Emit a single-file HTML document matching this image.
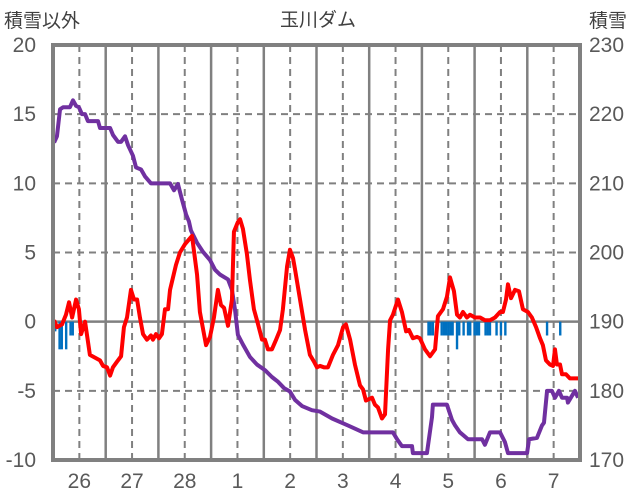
<!DOCTYPE html>
<html><head><meta charset="utf-8"><style>
html,body{margin:0;padding:0;background:#fff;}
svg{display:block;font-family:"Liberation Sans","Noto Sans CJK JP",sans-serif;}
</style></head><body>
<svg id="chart" width="636" height="501" viewBox="0 0 636 501">
<rect width="636" height="501" fill="#fff"/>
<g id="grid"></g>
<g id="bars"></g>
<g id="lines"></g>
<rect x="53" y="45" width="527" height="415" fill="none" stroke="#808080" stroke-width="4"/>
<g id="labels" fill="#595959" font-size="21"></g>
<text x="318" y="26" text-anchor="middle" font-size="19" fill="#404040">玉川ダム</text>
<text x="4" y="27" font-size="19" fill="#404040">積雪以外</text>
<text x="589" y="27" font-size="19" fill="#404040">積雪</text>
</svg>
<script>
const dayLabels=["26","27","28","1","2","3","4","5","6","7"];
const leftTicks=[20,15,10,5,0,-5,-10];
const rightTicks=[230,220,210,200,190,180,170];
const tempHours=[0.5,1.8,4.1,5.9,7.3,8.7,10.5,11.8,12.8,14.6,16.8,19.1,21.4,22.8,24.6,26,27.3,29.1,31,32.3,33.7,35.5,36.9,38.3,39.6,41,42.8,44.6,45.5,46.9,48.3,49.6,51,52.4,53.3,56,57.8,60.1,63.3,65.6,66.9,69.7,71.5,73.3,75.1,76.5,77.9,79.7,81.5,82.4,84.2,85.2,86.5,88.3,89.7,91.5,93.4,95.2,96.5,97.9,99.7,101.6,103.4,104.7,106.6,107.9,109.3,110.2,112.5,114.8,117,118.9,120.2,121.6,123.4,125.2,127.5,129.8,132.1,133.4,135.3,137.5,139.8,141.2,142.5,145.3,146.6,148,149.8,151.2,152.6,153.5,154.8,157.1,158.9,160.8,162.1,163.9,165.8,167.1,169.4,171.7,174,175.3,177.6,179.4,180.8,182.6,184,185.3,186.7,188.5,189.9,192.2,194.5,196.7,199,201.3,203.6,204.9,206.3,207.2,208.6,210.4,212.2,214,216.3,218.1,220,221.8,223.1,224.5,226.3,227.7,228.6,229.5,230.9,231.8,233.6,235.4,237.7,239.1];
const tempValues=[0.1,-0.4,-0.2,0.5,1.4,0.3,1.6,0.9,-0.9,0,-2.4,-2.6,-2.8,-3.2,-3.3,-3.9,-3.3,-2.9,-2.5,-0.4,0.3,2.3,1.6,1.6,0.3,-0.9,-1.3,-1.0,-1.3,-0.9,-1.2,-0.9,0.9,0.9,2.3,4.1,5.0,5.6,6.2,3.4,0.7,-1.7,-1.1,0.3,2.3,1.2,1.0,-0.3,1.6,6.5,7.2,7.4,6.7,4.9,3.0,0.9,-0.2,-1.3,-1.3,-2.0,-2.0,-1.3,-0.6,0.9,4.0,5.2,4.6,3.8,1.6,-0.6,-2.4,-2.9,-3.3,-3.2,-3.3,-3.3,-2.4,-1.7,-0.4,-0.2,-1.3,-3.1,-4.6,-4.9,-5.7,-5.5,-6.0,-6.2,-7.0,-6.7,-2.0,0.1,0.5,1.6,0.7,-0.7,-0.6,-1.2,-1.1,-1.2,-2.0,-2.5,-2.0,0.4,0.9,1.8,3.2,2.2,0.5,0.3,0.7,0.3,0.5,0.3,0.3,0.1,0.1,0.3,0.7,0.7,1.6,2.7,1.7,2.3,2.2,0.9,0.7,0.3,-0.4,-1.2,-1.7,-2.8,-3.1,-3.2,-2.0,-3.1,-3.1,-3.8,-3.8,-4.1,-4.1,-4.1];
const snowHours=[0.5,1.8,3.2,4.6,7.7,9.1,10.5,11.8,13.2,14.6,15.9,20.5,21.4,26,27.3,29.6,31,32.8,34.2,36.4,37.8,40.1,41.9,44.6,53.3,55.1,56.9,58.7,60.6,61.9,62.8,65.6,68.3,71.5,73.8,76.1,79.7,81.5,82.9,84.2,86.5,89.7,92.9,96.5,99.7,102.5,105.2,107.9,110.2,113.4,117.9,121.6,127.1,134.3,141.2,154.8,156.7,158.9,163.5,163.9,170.3,172.6,173,179.4,181.7,183.1,185.3,189,195.4,196.7,199,203.6,205.8,207.2,215.9,216.8,220.4,222.7,223.6,225,227.2,228.6,230.4,231.8,234.1,234.5,237.7,239.1];
const snowValues=[215.9,216.8,220.7,221,221,222,221.2,221,220,220,219,219,218,218,217,216,216,216.8,215.5,214,212.3,212,211,210,210,209,209.9,207.7,205.5,204.5,203.2,201.4,200.1,198.9,197.5,196.8,196.1,194.6,191.7,188.1,186.7,184.9,183.8,183,182,181.3,180.4,179.9,178.7,177.8,177.2,177,176,175,174,174,173,172,172,171,171,176.2,178,178,175.8,175,174,173,173,172.2,174,174,172.6,171,171,173,173.2,175,175.4,180,180,179,180,179,179,178.3,180,179];
const precipHours=[1,3,4,6,8,9,171,172,173,177,178,179,180,181,182,184,185,187,189,190,192,193,194,197,198,199,202,204,206,225,231];
const precipValues=[-0.7,-2,-2,-2,-1,-1,-1,-1,-1,-1,-1,-1,-1,-1,-1,-2,-1,-1,-1,-1,-1,-1,-1,-1,-1,-1,-1,-1,-1,-1,-1];

const NS='http://www.w3.org/2000/svg';
const X0=53,X1=580,Y0=45,Y1=460;
function xh(h){return X0+h*(X1-X0)/240;}
function yl(v){return Y1-(v+10)*(Y1-Y0)/30;}
function yr(v){return Y1-(v-170)*(Y1-Y0)/60;}
function mk(tag,attrs,parent){const e=document.createElementNS(NS,tag);for(const k in attrs)e.setAttribute(k,attrs[k]);parent.appendChild(e);return e;}
const grid=document.getElementById('grid'),bars=document.getElementById('bars'),lines=document.getElementById('lines'),labels=document.getElementById('labels');

leftTicks.forEach((t,i)=>{
  const y=yl(t);
  if(t!==20&&t!==-10){
    const l=mk('line',{x1:X0,x2:X1,y1:y,y2:y,stroke:'#808080','stroke-width':t===0?2.5:2,'stroke-dasharray':t===0?'none':'7,5'},grid);
    
    
  }
  const tl=mk('text',{x:36,y:y+7,'text-anchor':'end'},labels);tl.textContent=t;
  
  
  const tr=mk('text',{x:589,y:yr(rightTicks[i])+7},labels);tr.textContent=rightTicks[i];
  
  
});
dayLabels.forEach((d,i)=>{
  const xm=xh(i*24+12);
  const l=mk('line',{x1:xm,x2:xm,y1:Y0,y2:Y1,stroke:'#808080','stroke-width':2,'stroke-dasharray':'7,5'},grid);
  
  
  if(i>0){const xs=xh(i*24);
    const s=mk('line',{x1:xs,x2:xs,y1:Y0,y2:Y1,stroke:'#808080','stroke-width':2.5},grid);
    
    }
  const t=mk('text',{x:xm,y:488,'text-anchor':'middle'},labels);t.textContent=d;
  
  
});
precipHours.forEach((h,i)=>{
  const x=xh(h),y=yl(0),y2=yl(precipValues[i]);
  const r=mk('rect',{x:x-1.2,y:y,width:2.4,height:y2-y,fill:'#0070C0'},bars);
  
  
});
const sp=mk('polyline',{points:snowHours.map((h,i)=>xh(h)+','+yr(snowValues[i])).join(' '),fill:'none',stroke:'#7030A0','stroke-width':4,'stroke-linejoin':'round'},lines);


const tp=mk('polyline',{points:tempHours.map((h,i)=>xh(h)+','+yl(tempValues[i])).join(' '),fill:'none',stroke:'#FF0000','stroke-width':4,'stroke-linejoin':'round'},lines);


</script>
</body></html>
